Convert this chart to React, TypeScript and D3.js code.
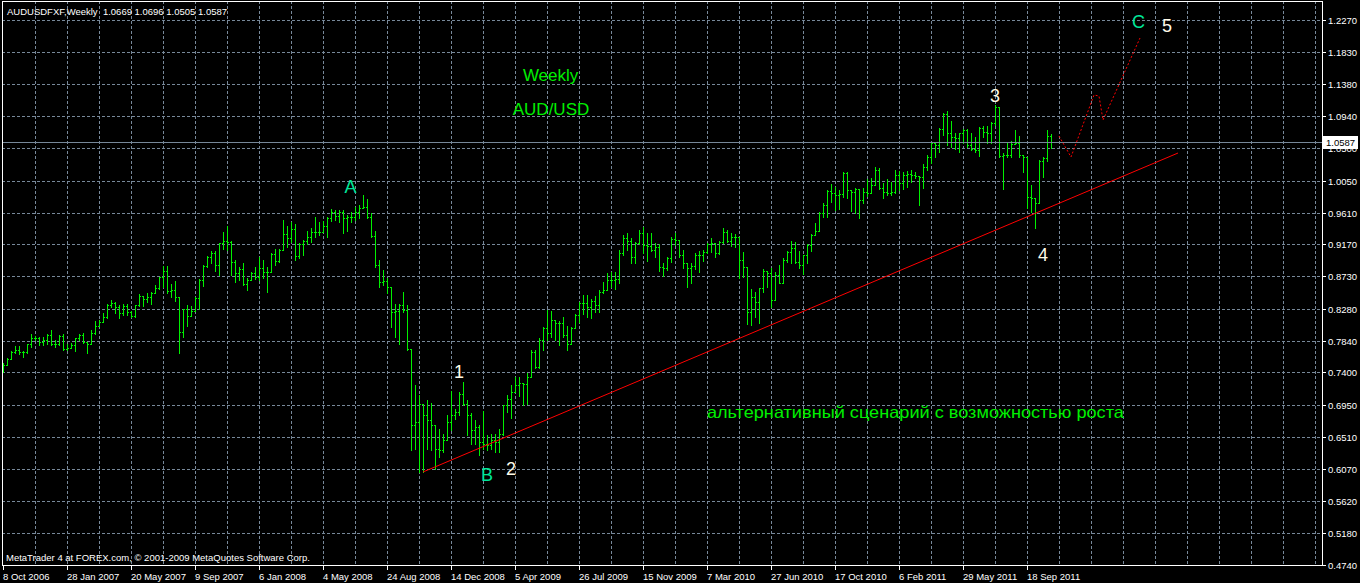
import React, { useEffect } from "react";
import * as d3 from "d3";

const W = 1360;
const H = 583;

// Weekly AUDUSD bars (one per week from 8 Oct 2006)
const highs = [
  0.7533,0.7606,0.7694,0.7768,0.7763,0.7703,0.7791,0.7929,0.7906,0.7897,
  0.7888,0.7929,0.7984,0.7846,0.7911,0.7934,0.7795,0.7809,0.7878,0.7925,
  0.7943,0.7823,0.7980,0.8109,0.8123,0.8224,0.8349,0.8395,0.8372,0.8326,
  0.8344,0.8340,0.8243,0.8335,0.8487,0.8455,0.8496,0.8510,0.8602,0.8722,
  0.8870,0.8870,0.8621,0.8658,0.8445,0.8280,0.8326,0.8312,0.8445,0.8694,
  0.8883,0.9003,0.9072,0.9082,0.9192,0.9344,0.9427,0.9210,0.8953,0.8851,
  0.8906,0.8699,0.8791,0.8851,0.8995,0.8953,0.8861,0.9045,0.9100,0.9105,
  0.9506,0.9428,0.9483,0.9446,0.9183,0.9229,0.9354,0.9391,0.9543,0.9483,
  0.9497,0.9552,0.9653,0.9644,0.9644,0.9644,0.9575,0.9621,0.9681,0.9713,
  0.9852,0.9792,0.9598,0.9354,0.8953,0.8814,0.8699,0.8584,0.8353,0.8353,
  0.8515,0.8330,0.7731,0.7233,0.7086,0.6892,0.7017,0.6984,0.6602,0.6615,
  0.6556,0.6809,0.7141,0.6901,0.7132,0.7270,0.7017,0.6841,0.6749,0.6671,
  0.6874,0.6542,0.6556,0.6556,0.6615,0.6957,0.7095,0.7233,0.7339,0.7338,
  0.7260,0.7396,0.7709,0.7709,0.7870,0.8022,0.8262,0.8253,0.8124,0.8115,
  0.8161,0.8041,0.8032,0.8207,0.8378,0.8470,0.8470,0.8410,0.8456,0.8539,
  0.8654,0.8779,0.8792,0.8792,0.9092,0.9300,0.9323,0.9253,0.9207,0.9369,
  0.9406,0.9323,0.9323,0.9194,0.9175,0.8908,0.9000,0.9276,0.9323,0.9230,
  0.9092,0.8917,0.8917,0.9055,0.9083,0.9092,0.9194,0.9253,0.9194,0.9221,
  0.9392,0.9369,0.9332,0.9313,0.9276,0.9069,0.8862,0.8548,0.8516,0.8562,
  0.8825,0.8792,0.8839,0.8792,0.8885,0.8977,0.9076,0.9219,0.9196,0.9076,
  0.9021,0.9173,0.9311,0.9459,0.9620,0.9736,0.9920,1.0003,0.9966,0.9920,
  1.0174,1.0174,0.9920,0.9943,0.9911,0.9943,1.0068,1.0081,1.0243,1.0220,
  1.0012,1.0068,1.0035,1.0197,1.0187,1.0174,1.0187,1.0197,1.0174,1.0114,
  1.0280,1.0404,1.0588,1.0574,1.0773,1.0990,1.1017,1.0879,1.0704,1.0713,
  1.0759,1.0759,1.0704,1.0648,1.0796,1.0805,1.0805,1.0865,1.1096,1.1063,
  1.0427,1.0588,1.0602,1.0750,1.0667,1.0404,1.0298,0.9989,0.9782,1.0335,
  1.0381,1.0750,1.0696,
];
const lows = [
  0.7408,0.7505,0.7580,0.7671,0.7662,0.7616,0.7676,0.7754,0.7855,0.7786,
  0.7786,0.7800,0.7782,0.7754,0.7785,0.7717,0.7717,0.7740,0.7699,0.7846,
  0.7809,0.7671,0.7791,0.7938,0.8040,0.8100,0.8146,0.8307,0.8224,0.8155,
  0.8192,0.8197,0.8169,0.8160,0.8317,0.8317,0.8372,0.8349,0.8492,0.8556,
  0.8575,0.8505,0.8445,0.8390,0.7671,0.7892,0.8044,0.8178,0.8266,0.8271,
  0.8598,0.8860,0.8916,0.8805,0.8745,0.9100,0.9091,0.8745,0.8653,0.8676,
  0.8602,0.8538,0.8685,0.8690,0.8676,0.8699,0.8506,0.8837,0.8884,0.8920,
  0.9206,0.9137,0.9206,0.8953,0.8985,0.9022,0.9169,0.9197,0.9275,0.9298,
  0.9335,0.9275,0.9492,0.9506,0.9483,0.9322,0.9354,0.9483,0.9506,0.9529,
  0.9667,0.9538,0.9275,0.8861,0.8584,0.8607,0.8492,0.8031,0.7892,0.7800,
  0.8238,0.7708,0.6325,0.6348,0.6025,0.6025,0.6348,0.6325,0.6071,0.6233,
  0.6302,0.6463,0.6602,0.6763,0.6809,0.6947,0.6532,0.6417,0.6417,0.6256,
  0.6348,0.6325,0.6348,0.6302,0.6302,0.6532,0.6855,0.6772,0.7132,0.7080,
  0.6955,0.6971,0.7340,0.7455,0.7455,0.7709,0.7847,0.7893,0.7847,0.7778,
  0.7884,0.7709,0.7847,0.8008,0.8101,0.8207,0.8161,0.8147,0.8239,0.8239,
  0.8502,0.8562,0.8585,0.8553,0.8631,0.9023,0.9092,0.8908,0.8908,0.9175,
  0.9055,0.8945,0.9083,0.9000,0.8806,0.8733,0.8815,0.8931,0.9161,0.8991,
  0.8839,0.8585,0.8631,0.8825,0.8792,0.8945,0.9055,0.9069,0.9000,0.9037,
  0.9184,0.9207,0.9147,0.9129,0.8700,0.8723,0.8068,0.8055,0.8170,0.8078,
  0.8516,0.8585,0.8308,0.8401,0.8631,0.8631,0.8929,0.8906,0.8906,0.8837,
  0.8758,0.8906,0.9081,0.9298,0.9422,0.9551,0.9551,0.9759,0.9643,0.9653,
  0.9819,0.9805,0.9634,0.9607,0.9528,0.9736,0.9837,0.9943,0.9989,0.9929,
  0.9805,0.9846,0.9851,0.9874,0.9920,0.9938,0.9957,1.0035,1.0081,0.9713,
  0.9943,1.0197,1.0298,1.0381,1.0450,1.0681,1.0542,1.0519,1.0492,1.0450,
  1.0565,1.0519,1.0473,1.0450,1.0390,1.0658,1.0565,1.0565,1.0819,1.0381,
  0.9929,1.0372,1.0381,1.0565,1.0381,1.0174,0.9666,0.9620,0.9390,0.9782,
  1.0104,1.0326,1.0505,
];
const closes = [
  0.7510,0.7593,0.7680,0.7708,0.7685,0.7680,0.7791,0.7883,0.7883,0.7823,
  0.7846,0.7911,0.7800,0.7791,0.7902,0.7731,0.7740,0.7782,0.7874,0.7920,
  0.7819,0.7800,0.7952,0.8049,0.8100,0.8160,0.8339,0.8363,0.8307,0.8215,
  0.8317,0.8238,0.8174,0.8326,0.8455,0.8418,0.8436,0.8492,0.8570,0.8722,
  0.8805,0.8528,0.8538,0.8436,0.7966,0.8271,0.8178,0.8252,0.8423,0.8676,
  0.8874,0.8989,0.9054,0.8883,0.9183,0.9215,0.9206,0.8920,0.8777,0.8824,
  0.8616,0.8676,0.8768,0.8713,0.8837,0.8782,0.8782,0.9036,0.8944,0.9091,
  0.9308,0.9262,0.9377,0.9013,0.9169,0.9220,0.9275,0.9335,0.9345,0.9345,
  0.9428,0.9538,0.9621,0.9566,0.9621,0.9538,0.9552,0.9552,0.9621,0.9667,
  0.9690,0.9552,0.9289,0.8884,0.8653,0.8662,0.8584,0.8238,0.8247,0.8330,
  0.8261,0.7731,0.6671,0.6717,0.6970,0.6809,0.6740,0.6671,0.6348,0.6325,
  0.6463,0.6717,0.6809,0.6855,0.7109,0.6970,0.6809,0.6602,0.6648,0.6440,
  0.6417,0.6394,0.6463,0.6440,0.6556,0.6947,0.7040,0.7132,0.7233,0.7248,
  0.7236,0.7340,0.7686,0.7478,0.7847,0.8008,0.7939,0.8124,0.8087,0.8078,
  0.7916,0.7792,0.8008,0.8193,0.8354,0.8364,0.8299,0.8391,0.8331,0.8516,
  0.8539,0.8677,0.8677,0.8686,0.9046,0.9253,0.9221,0.8991,0.9184,0.9332,
  0.9161,0.9147,0.9092,0.9129,0.8852,0.8839,0.8977,0.9240,0.9230,0.9023,
  0.8908,0.8839,0.8871,0.9023,0.9023,0.9069,0.9175,0.9184,0.9055,0.9207,
  0.9346,0.9221,0.9267,0.9267,0.8954,0.8862,0.8230,0.8447,0.8378,0.8562,
  0.8806,0.8769,0.8401,0.8746,0.8631,0.8954,0.9067,0.9113,0.8920,0.8883,
  0.9021,0.9159,0.9293,0.9358,0.9597,0.9713,0.9911,0.9874,0.9851,0.9865,
  1.0150,0.9920,0.9897,0.9929,0.9782,0.9897,0.9874,0.9989,1.0197,0.9943,
  0.9897,0.9874,0.9897,1.0127,1.0012,1.0127,1.0141,1.0127,1.0114,1.0095,
  1.0243,1.0381,1.0565,1.0542,1.0759,1.0971,1.0704,1.0658,1.0635,1.0704,
  1.0750,1.0542,1.0482,1.0473,1.0782,1.0727,1.0704,1.0842,1.1072,1.0390,
  1.0399,1.0404,1.0560,1.0574,1.0404,1.0381,0.9819,0.9805,0.9736,1.0326,
  1.0358,1.0669,1.0587,
];
const firstOpen = 0.7480;
const lastPrice = 1.0587;

const priceTicks = [
  "1.2270","1.1830","1.1380","1.0940","1.0500","1.0050","0.9610","0.9170","0.8730",
  "0.8280","0.7840","0.7400","0.6950","0.6510","0.6070","0.5620","0.5180","0.4740",
];
const dateLabels = [
  "8 Oct 2006","28 Jan 2007","20 May 2007","9 Sep 2007","6 Jan 2008","4 May 2008",
  "24 Aug 2008","14 Dec 2008","5 Apr 2009","26 Jul 2009","15 Nov 2009","7 Mar 2010",
  "27 Jun 2010","17 Oct 2010","6 Feb 2011","29 May 2011","18 Sep 2011",
];
const barsPerDateLabel = 16;
const barsPerGrid = 8;

// trend line (bar index, price) and forecast path
const trendLine = [ { i: 105, p: 0.6025 }, { i: 293.75, p: 1.0432 } ];
const forecast = [
  { i: 264, p: 1.0667 }, { i: 267, p: 1.0377 }, { i: 272.75, p: 1.1234 },
  { i: 274, p: 1.1220 }, { i: 275, p: 1.0888 }, { i: 284.25, p: 1.2021 },
];
const greenNotes = [
  { t: "Weekly", i: 136.9, p: 1.1510, size: 17 },
  { t: "AUD/USD", i: 137, p: 1.1033, size: 17 },
];
const waveLetters = [
  { t: "A", i: 86.9, p: 0.9956 },
  { t: "B", i: 121, p: 0.5990 },
  { t: "C", i: 283.9, p: 1.2242 },
];
const waveDigits = [
  { t: "1", i: 114, p: 0.7406 },
  { t: "2", i: 127, p: 0.6073 },
  { t: "3", i: 248, p: 1.1220 },
  { t: "4", i: 260, p: 0.9030 },
  { t: "5", i: 291, p: 1.2194 },
];
const scenario = { t: "альтернативный сценарий с возможностью роста", i: 228.1, p: 0.6854 };

const title = "AUDUSDFXF,Weekly  1.0669 1.0696 1.0505 1.0587";
const copyright = "MetaTrader 4 at FOREX.com, © 2001-2009 MetaQuotes Software Corp.";

const FONT = "'Liberation Sans', Arial, sans-serif";
const BAR = "#00f000";
const GRID = "#778899";

export default function App() {
  useEffect(() => {
    document.body.style.margin = "0";
    document.body.style.background = "#000";
  }, []);

  const plotL = 2, plotR = 1322, plotT = 1, plotB = 565;
  const x = d3.scaleLinear().domain([0, 329.75]).range([3, 1322]);
  const y = d3.scaleLinear().domain([0.474, 1.227]).range([565, 20]);
  const snap = (v: number) => Math.round(v) + 0.5;

  const nBars = closes.length;
  const opens = closes.map((_, k) => (k === 0 ? firstOpen : closes[k - 1]));

  const hLines = priceTicks.slice(0, -1).map((t) => snap(y(+t)));
  const vLines = d3.range(1, 42).map((k) => snap(x(k * barsPerGrid)));

  const line = d3.line<{ i: number; p: number }>().x((d) => x(d.i)).y((d) => y(d.p));

  const yl = snap(y(lastPrice));

  return (
    <svg width={W} height={H} style={{ display: "block", background: "#000" }} fontFamily={FONT}>
      <rect x={0} y={0} width={W} height={H} fill="#000" />
      {/* grid */}
      <g stroke={GRID} strokeWidth={1} strokeDasharray="3,2" shapeRendering="crispEdges">
        {hLines.map((yy, k) => (
          <line key={"h" + k} x1={plotL} x2={plotR} y1={yy} y2={yy} />
        ))}
        {vLines.map((xx, k) => (
          <line key={"v" + k} x1={xx} x2={xx} y1={plotT} y2={plotB} />
        ))}
      </g>
      {/* bars */}
      <g stroke={BAR} strokeWidth={1} shapeRendering="crispEdges">
        {d3.range(nBars).map((k) => {
          const xx = Math.round(x(k)) + 0.5;
          const o = opens[k], c = closes[k];
          const hi = Math.max(highs[k], o, c);
          const lo = Math.min(lows[k], o, c);
          const yo = Math.round(y(o)) + 0.5;
          const yc = Math.round(y(c)) + 0.5;
          return (
            <g key={k}>
              <line x1={xx} x2={xx} y1={Math.round(y(hi))} y2={Math.round(y(lo)) + 1} />
              <line x1={xx - 1.5} x2={xx} y1={yo} y2={yo} />
              <line x1={xx} x2={xx + 1.5} y1={yc} y2={yc} />
            </g>
          );
        })}
      </g>
      {/* current price line */}
      <line x1={plotL} x2={plotR} y1={yl} y2={yl} stroke={GRID} strokeWidth={1} shapeRendering="crispEdges" />
      {/* trend line */}
      <path d={line(trendLine) || ""} stroke="#ff0000" strokeWidth={1} fill="none" />
      <path d={line(forecast) || ""} stroke="#ff0000" strokeWidth={1} fill="none" strokeDasharray="2,2" />
      {/* frame */}
      <rect x={plotL + 0.5} y={plotT + 0.5} width={plotR - plotL} height={plotB - plotT} fill="none" stroke="#fff" strokeWidth={1} shapeRendering="crispEdges" />
      {/* price axis */}
      <g fill="#fff" fontSize={9.5}>
        {priceTicks.map((t, k) => {
          const yy = snap(y(+t));
          return (
            <g key={"p" + k}>
              <line x1={plotR} x2={plotR + 4} y1={yy} y2={yy} stroke="#fff" shapeRendering="crispEdges" />
              <text x={1328} y={yy + 3.5}>{t}</text>
            </g>
          );
        })}
      </g>
      <rect x={1323} y={yl - 6.5} width={35} height={13} fill="#fff" />
      <text x={1326} y={yl + 3.5} fontSize={9.5} fill="#000">{lastPrice.toFixed(4)}</text>
      {/* date axis */}
      <g fill="#fff" fontSize={9.5}>
        {dateLabels.map((t, k) => {
          const xx = snap(x(k * barsPerDateLabel));
          return (
            <g key={"d" + k}>
              <line x1={xx} x2={xx} y1={plotB} y2={plotB + 5} stroke="#fff" shapeRendering="crispEdges" />
              <text x={xx - 0.5} y={580}>{t}</text>
            </g>
          );
        })}
      </g>
      {/* title & copyright */}
      <text x={7} y={14.5} fill="#fff" fontSize={9.5} style={{ whiteSpace: "pre" }}>{title}</text>
      <text x={6} y={561} fill="#fff" fontSize={9.5}>{copyright}</text>
      {/* annotations */}
      {greenNotes.map((n, k) => (
        <text key={"g" + k} x={x(n.i)} y={y(n.p)} fill="#00f000" fontSize={n.size} textAnchor="middle" dominantBaseline="central">{n.t}</text>
      ))}
      {waveLetters.map((n, k) => (
        <text key={"l" + k} x={x(n.i)} y={y(n.p)} fill="#00e69a" fontSize={18} textAnchor="middle" dominantBaseline="central">{n.t}</text>
      ))}
      {waveDigits.map((n, k) => (
        <text key={"n" + k} x={x(n.i)} y={y(n.p)} fill="#fffbe8" fontSize={18} textAnchor="middle" dominantBaseline="central">{n.t}</text>
      ))}
      <text x={x(scenario.i)} y={y(scenario.p)} fill="#00f000" fontSize={16.5} textAnchor="middle" dominantBaseline="central" textLength={417} lengthAdjust="spacingAndGlyphs">{scenario.t}</text>
    </svg>
  );
}
